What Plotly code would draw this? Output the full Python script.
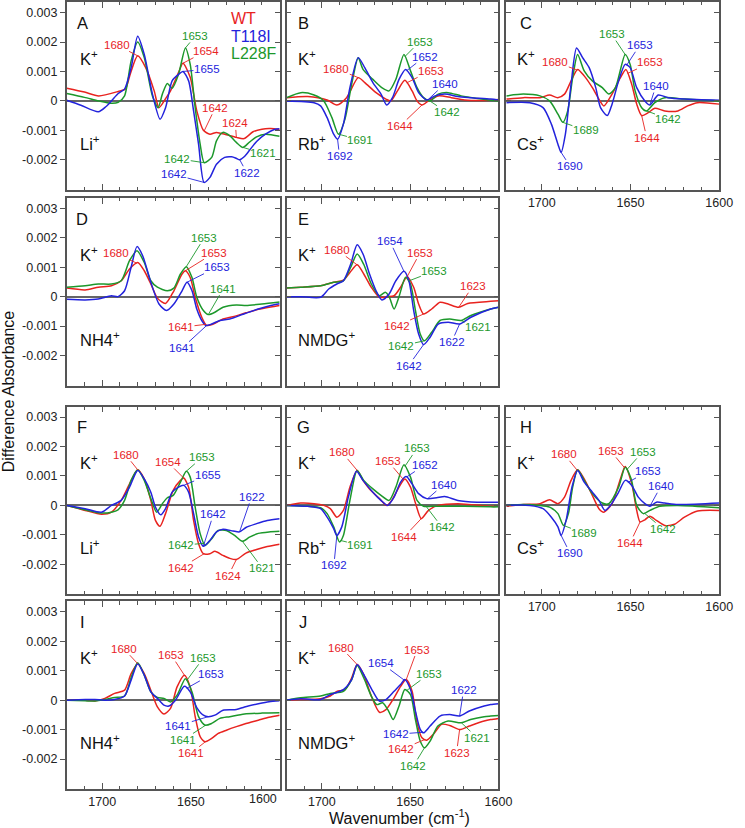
import numpy as np
import plotly.graph_objects as go

# ============================ DATA ============================
# Difference absorbance spectra, values in units of 0.001
# Each list: (wavenumber in cm-1, difference absorbance x 1e-3)

A_WT = [(1720, 0.43), (1710, 0.30), (1702, 0.17), (1691, 0.32), (1687, 0.40), (1684, 0.95), (1680, 1.53),
        (1675.5, 1.13), (1670.7, 0.34), (1668, -0.23), (1664, 0.10), (1661.5, 0.34), (1657, 0.96), (1654.5, 1.28),
        (1650.4, 0.80), (1646.7, -0.34), (1643, -1.00), (1639.3, -1.13), (1635.6, -1.07), (1630, -1.15),
        (1624.4, -1.24), (1620, -1.28), (1615, -1.05), (1610, -0.96), (1605, -0.94), (1600, -0.98)]
A_T118I = [(1720, 0.02), (1712, -0.15), (1702.2, -0.37), (1698, -0.20), (1694.8, 0.0), (1691, 0.25), (1687.4, 0.40),
           (1683.7, 1.13), (1680, 2.20), (1676.3, 1.58), (1671.7, 0.23), (1667.4, -0.62), (1664.3, -0.23),
           (1660.6, 0.68), (1657, 0.90), (1654.5, 1.00), (1651.3, 0.68), (1648.5, -0.34), (1645.7, -1.47),
           (1642.6, -2.77), (1639.3, -2.60), (1635.6, -2.15), (1631, -1.92), (1627, -1.90), (1624.5, -1.95),
           (1622.5, -2.00), (1620, -1.90), (1617, -1.68), (1613, -1.38), (1608, -1.13), (1603, -0.97), (1600, -0.95)]
A_L228F = [(1720, 0.25), (1710, 0.12), (1702, 0.0), (1695, -0.08), (1691, -0.05), (1687.4, 0.17), (1683.7, 1.36),
           (1680, 2.00), (1676.3, 1.47), (1671.7, 0.17), (1668.5, -0.23), (1666.1, 0.23), (1663.3, 0.59),
           (1660.6, 0.43), (1657, 0.90), (1653.1, 1.80), (1650.4, 1.24), (1647.6, -0.23), (1644.8, -1.47),
           (1642.5, -2.10), (1638.3, -1.92), (1635.6, -1.36), (1632, -1.07), (1628, -1.19), (1624.4, -1.41),
           (1620.7, -1.58), (1617, -1.40), (1613, -1.22), (1608, -1.13), (1600, -1.20)]

B_WT = [(1720, 0.11), (1708, 0.15), (1697, 0.03), (1691.5, -0.14), (1686, 0.11), (1679.4, 0.79), (1675.7, 0.62),
        (1669.3, 0.28), (1663.7, 0.06), (1660.9, 0.0), (1657.2, 0.34), (1653, 0.70), (1648.9, 0.34), (1646.1, 0.0),
        (1643.3, -0.14), (1639.6, 0.0), (1634.1, 0.17), (1626.7, 0.11), (1619.3, 0.03), (1604.4, 0.02), (1600, 0.05)]
B_T118I = [(1720, 0.0), (1704.4, -0.06), (1700.7, -0.17), (1697, -0.57), (1693.3, -1.13), (1691.1, -1.30),
           (1687.8, -0.79), (1684.1, 0.45), (1679.4, 1.47), (1675.7, 1.13), (1671.1, 0.62), (1666.5, 0.23),
           (1663.3, -0.14), (1660, 0.11), (1656.3, 0.73), (1652.6, 1.07), (1648.9, 0.79), (1645.2, 0.28),
           (1640.6, 0.03), (1635.9, 0.17), (1630.4, 0.23), (1623, 0.15), (1615.6, 0.11), (1604.4, 0.06), (1600, 0.03)]
B_L228F = [(1720, 0.11), (1711.9, 0.28), (1704.4, 0.20), (1698.9, 0.0), (1694.3, -0.57), (1690.6, -1.13),
           (1686.9, -0.62), (1683.1, 0.57), (1679.4, 1.47), (1676.7, 1.07), (1671.1, 0.73), (1665.6, 0.43),
           (1661.9, 0.34), (1658.1, 0.73), (1653.5, 1.58), (1649.8, 1.02), (1646.1, 0.45), (1642.4, 0.11),
           (1638.7, 0.0), (1634.1, 0.23), (1628.5, 0.28), (1621.1, 0.17), (1611.9, 0.08), (1604.4, 0.02), (1600, 0.0)]

C_WT = [(1720, 0.06), (1710.4, 0.11), (1701, 0.11), (1695.6, 0.20), (1691, 0.11), (1687.2, 0.23), (1683.5, 0.68),
        (1679.8, 1.07), (1676.1, 0.85), (1671.5, 0.45), (1667.8, 0.06), (1665, -0.17), (1660.4, 0.23),
        (1655.7, 0.79), (1652.6, 1.07), (1649.3, 0.56), (1646.5, -0.11), (1643.7, -0.50), (1640, -0.40),
        (1636.3, -0.25), (1630.7, -0.34), (1623.3, -0.34), (1617.8, -0.17), (1612.2, -0.06), (1600, -0.11)]
C_T118I = [(1720, -0.06), (1706.7, -0.06), (1699.3, -0.23), (1694.6, -0.79), (1690.9, -1.47), (1689.1, -1.75),
           (1686.7, -1.13), (1683.5, 0.56), (1680.4, 1.80), (1677, 1.47), (1673.3, 1.13), (1669.6, 0.45),
           (1666.9, -0.23), (1663.1, -0.50), (1660.4, -0.11), (1656.7, 0.68), (1653, 1.24), (1650.2, 1.13),
           (1646.5, 0.45), (1641.9, 0.0), (1639.1, -0.14), (1634.4, 0.20), (1628.9, 0.11), (1619.6, 0.06), (1600, 0.02)]
C_L228F = [(1720, 0.17), (1710.4, 0.23), (1701, 0.17), (1695.6, 0.0), (1690.9, -0.45), (1688.1, -0.73),
           (1685.4, -0.34), (1682.6, 0.79), (1679.8, 1.58), (1676.1, 1.02), (1671.5, 0.68), (1665.9, 0.45),
           (1662.2, 0.23), (1658.5, 0.45), (1653, 1.58), (1650.2, 1.24), (1647.4, 0.34), (1643.7, -0.23),
           (1641, -0.34), (1636.3, -0.06), (1630.7, 0.11), (1619.6, 0.06), (1600, 0.0)]

D_WT = [(1720, 0.29), (1709.6, 0.23), (1702.2, 0.32), (1694.8, 0.37), (1689.3, 0.54), (1684.6, 0.94), (1680, 1.16),
        (1676.3, 0.88), (1672.6, 0.43), (1668.9, -0.05), (1664.3, -0.23), (1659.6, 0.20), (1655, 0.77),
        (1653.1, 0.88), (1650.4, 0.65), (1647.6, -0.02), (1643.9, -0.70), (1641.1, -0.98), (1637.4, -0.93),
        (1631.9, -0.76), (1626.3, -0.68), (1619, -0.55), (1612, -0.43), (1605, -0.35), (1600, -0.30)]
D_T118I = [(1720, -0.09), (1709.6, -0.11), (1702.2, -0.08), (1694.8, 0.03), (1691.1, 0.0), (1687.4, 0.20),
           (1683.7, 1.00), (1680.4, 1.70), (1677.2, 1.39), (1672.6, 0.49), (1668, -0.25), (1663.7, -0.47),
           (1659.6, -0.25), (1655, 0.20), (1652.2, 0.49), (1649.4, 0.20), (1646.7, -0.42), (1643.9, -0.81),
           (1641.5, -0.98), (1638.3, -0.93), (1633.7, -0.81), (1628.1, -0.76), (1620.7, -0.60), (1612, -0.42),
           (1605, -0.30), (1600, -0.24)]
D_L228F = [(1720, 0.32), (1709.6, 0.37), (1702.2, 0.43), (1694.8, 0.43), (1689.3, 0.54), (1684.6, 1.22),
           (1680.4, 1.56), (1676.3, 1.16), (1672.6, 0.54), (1668.9, 0.32), (1663.3, 0.20), (1659.6, 0.29),
           (1655.9, 0.77), (1652.6, 1.02), (1649.4, 0.65), (1646.7, -0.02), (1643, -0.47), (1640.2, -0.61),
           (1636.5, -0.53), (1631.9, -0.36), (1624.4, -0.28), (1618.9, -0.30), (1610, -0.25), (1600, -0.18)]

E_WT = [(1720, 0.29), (1711.9, 0.32), (1700.7, 0.37), (1693.3, 0.49), (1687.8, 0.56), (1684.1, 0.82), (1680, 1.08),
        (1675.7, 0.71), (1672, 0.32), (1667.4, -0.02), (1662.8, 0.0), (1659.1, 0.03), (1655.4, 0.32),
        (1651.7, 0.68), (1648, 0.32), (1645.2, -0.25), (1642.4, -0.59), (1637.8, -0.42), (1633.1, -0.19),
        (1628.5, -0.25), (1622.5, -0.36), (1617.4, -0.23), (1604.4, -0.16), (1600, -0.14)]
E_T118I = [(1720, 0.0), (1711.9, 0.0), (1700.7, -0.02), (1696.1, 0.26), (1691.5, 0.43), (1687.8, 0.54),
           (1683.7, 1.10), (1680, 1.76), (1676.7, 1.45), (1673, 0.77), (1669.3, 0.20), (1666, -0.11),
           (1661.9, 0.09), (1658.1, 0.54), (1653.5, 0.86), (1650.7, 0.54), (1648, -0.47), (1645.2, -1.27),
           (1642.4, -1.63), (1638.7, -1.38), (1634.1, -0.93), (1628.5, -0.87), (1622, -0.93), (1615.6, -0.70),
           (1604.4, -0.42), (1600, -0.36)]
E_L228F = [(1720, 0.29), (1711.9, 0.32), (1700.7, 0.37), (1693.3, 0.49), (1687.8, 0.54), (1683.7, 0.99),
           (1680, 1.45), (1676.3, 1.10), (1672, 0.43), (1667.4, 0.03), (1664.1, 0.15), (1661.9, 0.0),
           (1659.1, -0.42), (1656.3, 0.0), (1652.6, 0.66), (1649.8, 0.43), (1647, -0.47), (1644.3, -1.27),
           (1641.9, -1.50), (1637.8, -1.21), (1633.1, -0.81), (1627.6, -0.76), (1621.1, -0.81), (1615.6, -0.64),
           (1604.4, -0.42), (1600, -0.36)]

F_WT = [(1720, 0.0), (1709.6, -0.17), (1700.4, -0.30), (1694.8, -0.23), (1689.3, 0.17), (1684.6, 0.73), (1680, 1.21),
        (1676.3, 0.90), (1672.6, 0.17), (1670, -0.51), (1667.4, -0.71), (1664.3, -0.28), (1660, 0.51),
        (1655.9, 0.85), (1654.1, 0.93), (1651.3, 0.62), (1648.5, -0.51), (1645.7, -1.30), (1643, -1.64),
        (1639.3, -1.64), (1636.5, -1.56), (1631.9, -1.70), (1628.1, -1.80), (1624.4, -1.84), (1619, -1.62),
        (1613, -1.50), (1607, -1.40), (1600, -1.32)]
F_T118I = [(1720, 0.0), (1709.6, -0.11), (1700.4, -0.23), (1694.8, 0.0), (1689.3, 0.17), (1684.6, 0.62),
           (1680, 1.19), (1676.3, 0.90), (1672.6, 0.45), (1670, -0.06), (1667, -0.32), (1664.3, -0.11),
           (1660.6, 0.45), (1657, 0.62), (1654.1, 0.68), (1651.3, 0.45), (1648.5, -0.28), (1645.7, -1.07),
           (1643, -1.39), (1639.3, -1.19), (1635.6, -0.90), (1631.9, -0.81), (1626.3, -0.87), (1622.6, -0.90),
           (1619, -0.75), (1613, -0.62), (1607, -0.51), (1600, -0.45)]
F_L228F = [(1720, 0.0), (1709.6, -0.15), (1700.4, -0.26), (1694.8, -0.23), (1691.1, -0.15), (1687.4, 0.17),
           (1683.7, 0.85), (1680, 1.21), (1676.3, 0.85), (1672.6, 0.23), (1669.3, -0.23), (1666.1, 0.06),
           (1663.3, 0.26), (1660, 0.34), (1655.9, 0.79), (1652.6, 1.16), (1650.4, 0.96), (1647.6, -0.06),
           (1644.8, -0.96), (1642, -1.36), (1638.3, -1.13), (1634.6, -0.85), (1630, -0.85), (1625.4, -1.02),
           (1621, -1.22), (1617, -1.08), (1612, -0.95), (1606, -0.90), (1600, -0.88)]

G_WT = [(1720, 0.0), (1712, 0.08), (1704.4, 0.06), (1698.9, 0.0), (1695.2, -0.11), (1691.5, -0.40), (1687.8, -0.17),
        (1684.1, 0.62), (1680, 1.19), (1676.7, 0.85), (1673, 0.56), (1667.4, 0.23), (1663.3, 0.0), (1660.4, 0.17),
        (1656.3, 0.62), (1653, 0.90), (1649.8, 0.62), (1646.9, 0.06), (1643.7, -0.45), (1639.6, -0.17),
        (1634.1, 0.0), (1623, 0.06), (1604.4, -0.03), (1600, -0.03)]
G_T118I = [(1720, 0.0), (1708, -0.03), (1700.7, -0.11), (1697, -0.40), (1693.3, -0.79), (1691.5, -1.02),
           (1688.7, -0.73), (1685, 0.28), (1680.4, 1.16), (1676.7, 0.85), (1671.1, 0.45), (1666.5, 0.17),
           (1662.8, 0.0), (1659.1, 0.28), (1655.4, 0.79), (1652.2, 0.98), (1648.9, 0.73), (1645.2, 0.40),
           (1640.6, 0.23), (1635, 0.26), (1630.4, 0.30), (1623, 0.17), (1612, 0.11), (1604.4, 0.11), (1600, 0.11)]
G_L228F = [(1720, 0.0), (1708, -0.03), (1700.7, -0.08), (1697, -0.28), (1693.3, -0.73), (1690, -1.24),
           (1687.8, -1.02), (1684.1, 0.17), (1680, 1.19), (1676.3, 0.85), (1671.1, 0.56), (1666.5, 0.34),
           (1661.9, 0.17), (1658.1, 0.62), (1653.5, 1.38), (1649.8, 0.96), (1646.1, 0.17), (1642.4, -0.03),
           (1637.8, -0.03), (1630.4, -0.03), (1619.3, -0.03), (1604.4, -0.05), (1600, -0.05)]

H_WT = [(1720, -0.03), (1710.4, 0.03), (1701, 0.06), (1695.6, 0.19), (1690.9, 0.06), (1687.2, 0.28), (1683.5, 0.85),
        (1679.8, 1.21), (1676.1, 0.90), (1671.5, 0.34), (1667.8, -0.11), (1665, -0.23), (1660.4, 0.06),
        (1655.7, 0.90), (1653, 1.32), (1649.3, 0.73), (1646.5, -0.17), (1644.6, -0.56), (1641.9, -0.49),
        (1639.1, -0.37), (1635.4, -0.51), (1630.7, -0.68), (1625.2, -0.64), (1619.6, -0.40), (1612.2, -0.19),
        (1600, -0.17)]
H_T118I = [(1720, 0.0), (1706.7, 0.0), (1699.3, -0.11), (1694.6, -0.40), (1690.9, -0.73), (1689.1, -1.02),
           (1686.3, -0.51), (1683, 0.62), (1679.8, 1.19), (1676.1, 0.79), (1671.5, 0.45), (1667.8, 0.17),
           (1664.4, -0.17), (1661.3, 0.0), (1656.7, 0.45), (1653, 0.85), (1649.3, 0.68), (1645.6, 0.28),
           (1641.9, 0.06), (1639.1, -0.03), (1635.4, 0.11), (1630.7, 0.08), (1623.3, 0.03), (1600, 0.08)]
H_L228F = [(1720, 0.0), (1710.4, 0.03), (1701, 0.0), (1695.6, -0.06), (1690.9, -0.28), (1687.8, -0.68),
           (1685, -0.28), (1682.6, 0.62), (1679.8, 1.21), (1676.1, 0.85), (1671.5, 0.40), (1665.9, 0.08),
           (1662.2, 0.06), (1656.7, 0.62), (1653, 1.30), (1649.6, 0.90), (1646.5, 0.0), (1642.8, -0.28),
           (1639.1, -0.17), (1633.5, -0.03), (1623.3, 0.0), (1600, -0.08)]

I_WT = [(1720, 0.0), (1709.6, 0.0), (1704.1, -0.03), (1698.5, 0.06), (1693, 0.23), (1687.4, 0.34), (1683.7, 0.90),
        (1680, 1.24), (1676.3, 0.90), (1672.6, 0.34), (1668.9, -0.23), (1665.2, -0.47), (1661.5, -0.28),
        (1657.8, 0.45), (1653.7, 0.85), (1650.4, 0.45), (1647.6, -0.56), (1644.8, -1.24), (1642, -1.41),
        (1638.3, -1.30), (1634.6, -1.13), (1630, -1.02), (1624.4, -0.90), (1619.8, -0.81), (1612, -0.68),
        (1606, -0.58), (1600, -0.51)]
I_T118I = [(1720, 0.0), (1709.6, 0.02), (1704.1, 0.02), (1698.5, 0.0), (1693, 0.02), (1687.4, 0.14), (1683.7, 0.68),
           (1680, 1.24), (1676.3, 0.85), (1672.6, 0.28), (1668.9, 0.06), (1665.2, -0.17), (1662.4, -0.20),
           (1658.7, 0.0), (1653.7, 0.47), (1650.4, 0.28), (1646.7, -0.25), (1643, -0.51), (1640.2, -0.56),
           (1636.5, -0.51), (1631.9, -0.34), (1624.4, -0.32), (1619.8, -0.23), (1612, -0.12), (1606, -0.05),
           (1600, -0.02)]
I_L228F = [(1720, 0.0), (1709.6, -0.02), (1704.1, -0.03), (1698.5, 0.02), (1693, 0.09), (1687.4, 0.14),
           (1683.7, 0.77), (1680, 1.27), (1676.3, 0.85), (1672.6, 0.28), (1668.9, 0.09), (1665.2, 0.06),
           (1661.5, -0.06), (1657.8, 0.17), (1653.1, 0.73), (1649.4, 0.28), (1645.7, -0.56), (1642, -0.85),
           (1638.3, -0.79), (1633.7, -0.62), (1628.1, -0.56), (1619.8, -0.47), (1610, -0.44), (1600, -0.43)]

J_WT = [(1720, 0.0), (1712, 0.02), (1700.7, 0.05), (1695.2, 0.14), (1691.5, 0.30), (1686.9, 0.36), (1683.1, 0.76),
        (1680, 1.21), (1676.3, 0.87), (1672, 0.14), (1667.4, -0.41), (1663.7, -0.32), (1659.1, 0.08),
        (1655.4, 0.47), (1652.2, 0.70), (1648.9, 0.30), (1646.1, -0.77), (1643.3, -1.28), (1640.6, -1.36),
        (1636.9, -1.16), (1632.2, -0.82), (1627.6, -0.86), (1622, -1.00), (1616.5, -0.88), (1608.1, -0.71),
        (1604.4, -0.66), (1600, -0.62)]
J_T118I = [(1720, 0.0), (1712, 0.05), (1700.7, 0.02), (1695.2, 0.19), (1687.8, 0.36), (1683.1, 0.70), (1680, 1.21),
           (1675.7, 0.81), (1671.1, 0.30), (1667.4, -0.03), (1663.7, 0.02), (1659.1, 0.30), (1655.4, 0.53),
           (1653, 0.70), (1649.8, 0.36), (1647, -0.37), (1644.3, -0.99), (1642.4, -1.11), (1638.7, -0.88),
           (1633.1, -0.54), (1627.6, -0.49), (1622, -0.54), (1616.5, -0.37), (1608.1, -0.20), (1604.4, -0.15),
           (1600, -0.12)]
J_L228F = [(1720, 0.0), (1712, 0.08), (1700.7, 0.14), (1695.2, 0.23), (1687.8, 0.30), (1683.1, 0.70), (1680, 1.18),
           (1676.3, 0.76), (1672, 0.14), (1668.9, -0.15), (1665.6, -0.09), (1662.2, -0.37), (1659.6, -0.66),
           (1656.3, -0.20), (1653, 0.36), (1649.8, 0.19), (1647, -0.66), (1644.3, -1.39), (1641.9, -1.62),
           (1638.7, -1.39), (1634.3, -0.88), (1628.5, -0.71), (1621.1, -0.77), (1615.8, -0.66), (1608.1, -0.56),
           (1604.4, -0.54), (1600, -0.52)]

SERIES_NAMES = ["WT", "T118I", "L228F"]
PANEL_LETTERS = ["A", "B", "C", "D", "E", "F", "G", "H", "I", "J"]
SPECTRA = {
    "A": {"WT": A_WT, "T118I": A_T118I, "L228F": A_L228F},
    "B": {"WT": B_WT, "T118I": B_T118I, "L228F": B_L228F},
    "C": {"WT": C_WT, "T118I": C_T118I, "L228F": C_L228F},
    "D": {"WT": D_WT, "T118I": D_T118I, "L228F": D_L228F},
    "E": {"WT": E_WT, "T118I": E_T118I, "L228F": E_L228F},
    "F": {"WT": F_WT, "T118I": F_T118I, "L228F": F_L228F},
    "G": {"WT": G_WT, "T118I": G_T118I, "L228F": G_L228F},
    "H": {"WT": H_WT, "T118I": H_T118I, "L228F": H_L228F},
    "I": {"WT": I_WT, "T118I": I_T118I, "L228F": I_L228F},
    "J": {"WT": J_WT, "T118I": J_T118I, "L228F": J_L228F},
}
REFERENCE_ION = "K<sup>+</sup>"
TEST_IONS = {"A": "Li<sup>+</sup>", "B": "Rb<sup>+</sup>", "C": "Cs<sup>+</sup>", "D": "NH4<sup>+</sup>",
             "E": "NMDG<sup>+</sup>", "F": "Li<sup>+</sup>", "G": "Rb<sup>+</sup>", "H": "Cs<sup>+</sup>",
             "I": "NH4<sup>+</sup>", "J": "NMDG<sup>+</sup>"}

# Peak labels: (series, label text, wavenumber of the labelled point)
PEAKS = {
    "A": [("WT", "1680", 1680), ("L228F", "1653", 1653.1), ("WT", "1654", 1654.5), ("T118I", "1655", 1654.5),
          ("WT", "1642", 1642.5), ("WT", "1624", 1624.4), ("L228F", "1642", 1642.5), ("T118I", "1642", 1642.6),
          ("L228F", "1621", 1620.7), ("T118I", "1622", 1622.5)],
    "B": [("WT", "1680", 1679.4), ("L228F", "1653", 1653), ("T118I", "1652", 1652), ("WT", "1653", 1652),
          ("T118I", "1640", 1639.5), ("WT", "1644", 1643.3), ("L228F", "1642", 1639.5), ("L228F", "1691", 1690.6),
          ("T118I", "1692", 1691.1)],
    "C": [("WT", "1680", 1680), ("L228F", "1653", 1652.8), ("T118I", "1653", 1652.2), ("WT", "1653", 1651.7),
          ("T118I", "1640", 1639.1), ("L228F", "1689", 1688.1), ("T118I", "1690", 1689.1), ("WT", "1644", 1643.7),
          ("L228F", "1642", 1641)],
    "D": [("WT", "1680", 1680.5), ("L228F", "1653", 1652.6), ("WT", "1653", 1653.1), ("T118I", "1653", 1652.2),
          ("L228F", "1641", 1640.2), ("WT", "1641", 1641.5), ("T118I", "1641", 1641)],
    "E": [("WT", "1680", 1680), ("T118I", "1654", 1653.5), ("WT", "1653", 1651.7), ("L228F", "1653", 1651),
          ("WT", "1623", 1622.5), ("WT", "1642", 1642.4), ("L228F", "1642", 1641.9), ("T118I", "1642", 1642.4),
          ("T118I", "1622", 1622), ("L228F", "1621", 1621.1)],
    "F": [("WT", "1680", 1680), ("WT", "1654", 1654.1), ("L228F", "1653", 1652.6), ("T118I", "1655", 1654.1),
          ("T118I", "1642", 1643), ("L228F", "1642", 1642.5), ("WT", "1642", 1642.5), ("WT", "1624", 1624.4),
          ("T118I", "1622", 1622.6), ("L228F", "1621", 1621)],
    "G": [("WT", "1680", 1680), ("WT", "1653", 1653.5), ("L228F", "1653", 1653), ("T118I", "1652", 1652),
          ("T118I", "1640", 1640), ("WT", "1644", 1643.7), ("L228F", "1642", 1641), ("L228F", "1691", 1689.5),
          ("T118I", "1692", 1691.5)],
    "H": [("WT", "1680", 1680), ("WT", "1653", 1653.3), ("L228F", "1653", 1652.2), ("T118I", "1653", 1651.5),
          ("T118I", "1640", 1639.1), ("L228F", "1689", 1687.8), ("T118I", "1690", 1689.1), ("WT", "1644", 1644.6),
          ("L228F", "1642", 1642.2)],
    "I": [("WT", "1680", 1680), ("WT", "1653", 1653.7), ("L228F", "1653", 1652.5), ("T118I", "1653", 1652.5),
          ("T118I", "1641", 1640.2), ("L228F", "1641", 1641.5), ("WT", "1641", 1641.5)],
    "J": [("WT", "1680", 1680), ("WT", "1653", 1652.2), ("T118I", "1654", 1653.3), ("L228F", "1653", 1652.2),
          ("T118I", "1622", 1622), ("T118I", "1642", 1642.7), ("WT", "1642", 1641.5), ("L228F", "1642", 1641.9),
          ("WT", "1623", 1622), ("L228F", "1621", 1621)],
}

Y_TICK_VALUES = [-2, -1, 0, 1, 2, 3]
Y_TICK_TEXT = ["-0.002", "-0.001", "0", "0.001", "0.002", "0.003"]
X_TICK_VALUES = [1700, 1650, 1600]

# ============================ STYLE / LAYOUT ============================
W, H = 745, 828
FONT = "Liberation Sans, Arial, Helvetica, sans-serif"
COLORS = {"WT": "#e8231f", "T118I": "#2323dc", "L228F": "#1c982b"}
AXIS_COLOR = "#555555"
X_RANGE = [1720, 1600]
Y_RANGE = [-3.02, 3.36]
COL_PX = {1: (68, 285), 2: (292, 508), 3: (516, 733)}
ROW_PX = {1: (1, 189), 2: (197, 385), 3: (406, 594), 4: (601, 789)}
PANEL_POS = {"A": (1, 1), "B": (1, 2), "C": (1, 3), "D": (2, 1), "E": (2, 2),
             "F": (3, 1), "G": (3, 2), "H": (3, 3), "I": (4, 1), "J": (4, 2)}
XLABEL_PANELS = {"C", "H", "I", "J"}
LETTER_DX = {1: 16, 2: 17, 3: 20}
ION_DX = {1: 11, 2: 10, 3: 9}

# text offsets (pixels, text centre relative to labelled point) for PEAKS, in the same order
LABEL_OFFSETS = {
    "A": [(-21, -11), (10, -12), (23, -12), (24, -2), (11, -23), (-1, -14), (-27, -4), (-30, -8), (20, 6), (7, 13)],
    "B": [(-22, -9), (15, -15), (18, -14), (24, -12), (16, -15), (-22, 21), (18, 12), (22, 6), (2, 17)],
    "C": [(-22, -8), (-14, -21), (13, -20), (23, -11), (6, -19), (23, 8), (9, 14), (5, 22), (22, 8)],
    "D": [(-21, -10), (18, -29), (29, -18), (30, -15), (15, -26), (-25, 3), (-25, 23)],
    "E": [(-20, -15), (-14, -30), (13, -24), (26, -10), (14, -21), (-27, 12), (-23, 5), (-15, 21), (-8, 18), (17, 7)],
    "F": [(-12, -15), (-16, -16), (16, -14), (24, -10), (10, -32), (-23, 2), (-23, 14), (-8, 16), (12, -35), (20, 27)],
    "G": [(-15, -18), (-16, -19), (12, -18), (18, -12), (16, -14), (-17, 18), (16, 21), (20, 5), (-3, 30)],
    "H": [(-13, -16), (-14, -17), (16, -18), (20, -11), (11, -20), (21, 8), (9, 18), (-10, 21), (19, 16)],
    "I": [(-14, -15), (-13, -20), (17, -23), (25, -14), (-30, 9), (-23, 15), (-15, 12)],
    "J": [(-16, -17), (11, -30), (-23, -17), (23, -17), (4, -26), (-27, 2), (-24, 10), (-11, 18), (-3, 23), (16, 15)],
}


def px(x, y):
    return x / W, 1 - y / H


def sfx(n):
    return "" if n == 1 else str(n)


fig = go.Figure()
layout = dict(width=W, height=H, margin=dict(l=0, r=0, t=0, b=0), paper_bgcolor="white",
              plot_bgcolor="white", showlegend=False, font=dict(family=FONT, color="#222222"))
annotations = []

overlay_n = len(PANEL_LETTERS)
for i, letter in enumerate(PANEL_LETTERS):
    n = i + 1
    row, col = PANEL_POS[letter]
    x0, x1 = COL_PX[col]
    y0, y1 = ROW_PX[row]
    xd = [x0 / W, x1 / W]
    yd = [1 - y1 / H, 1 - y0 / H]
    show_x = letter in XLABEL_PANELS
    xtickvals = [1700, 1650] if letter == "I" else X_TICK_VALUES
    layout["xaxis" + sfx(n)] = dict(
        domain=xd, anchor="y" + sfx(n), range=X_RANGE, showgrid=False, zeroline=False,
        showline=True, linecolor=AXIS_COLOR, linewidth=1.5, mirror="ticks",
        tickmode="array", tickvals=xtickvals, ticktext=[str(v) for v in xtickvals],
        ticks="inside", ticklen=6, tickwidth=1, tickcolor=AXIS_COLOR,
        showticklabels=show_x, tickfont=dict(size=12.5, color="#222222"),
        minor=dict(tickmode="linear", tick0=1600, dtick=10, ticks="inside", ticklen=3.5,
                   tickwidth=1, tickcolor=AXIS_COLOR, showgrid=False),
    )
    left = col == 1
    layout["yaxis" + sfx(n)] = dict(
        domain=yd, anchor="x" + sfx(n), range=Y_RANGE, showgrid=False,
        zeroline=True, zerolinecolor="#666666", zerolinewidth=1.6,
        showline=True, linecolor=AXIS_COLOR, linewidth=1.5,
        mirror=True if left else "ticks",
        tickmode="array", tickvals=Y_TICK_VALUES, ticktext=Y_TICK_TEXT,
        ticks="outside" if left else "inside", ticklen=5, tickwidth=1, tickcolor=AXIS_COLOR,
        showticklabels=left, tickfont=dict(size=12.5, color="#222222"),
    )
    if left:
        overlay_n += 1
        m = overlay_n
        layout["yaxis" + sfx(m)] = dict(
            overlaying="y" + sfx(n), anchor="x" + sfx(n), side="right", range=Y_RANGE,
            showgrid=False, zeroline=False, showline=False, tickmode="array", tickvals=Y_TICK_VALUES,
            ticks="inside", ticklen=5, tickwidth=1, tickcolor=AXIS_COLOR, showticklabels=False,
        )
        fig.add_trace(go.Scatter(x=[None], y=[None], xaxis="x" + sfx(n), yaxis="y" + sfx(m),
                                 mode="lines", hoverinfo="skip", showlegend=False))

    # spectra
    for s in ["WT", "L228F", "T118I"]:
        pts = SPECTRA[letter][s]
        fig.add_trace(go.Scatter(
            x=[p[0] for p in pts], y=[p[1] for p in pts], mode="lines", name=s,
            line=dict(color=COLORS[s], width=1.5, shape="spline", smoothing=0.7),
            xaxis="x" + sfx(n), yaxis="y" + sfx(n), hoverinfo="skip", showlegend=False))

    # peak labels
    for (s, txt, wn), (dx, dy) in zip(PEAKS[letter], LABEL_OFFSETS[letter]):
        pts = SPECTRA[letter][s]
        xs = np.array([p[0] for p in pts])[::-1]
        ys = np.array([p[1] for p in pts])[::-1]
        yv = float(np.interp(wn, xs, ys))
        annotations.append(dict(
            x=wn, y=yv, xref="x" + sfx(n), yref="y" + sfx(n), text=txt, showarrow=True,
            ax=dx, ay=dy, arrowhead=0, arrowwidth=0.9, arrowcolor=COLORS[s], standoff=0,
            font=dict(size=11.5, color=COLORS[s], family=FONT), borderpad=0))

    # panel letter and ion labels
    zero_y = y0 + 99
    lx, ly = px(x0 + LETTER_DX[col], zero_y - 78)
    annotations.append(dict(x=lx, y=ly, xref="paper", yref="paper", text=letter, showarrow=False,
                            xanchor="center", yanchor="middle", font=dict(size=16.5, color="#111111")))
    kx, ky = px(x0 + ION_DX[col], zero_y - 43)
    annotations.append(dict(x=kx, y=ky, xref="paper", yref="paper", text=REFERENCE_ION, showarrow=False,
                            xanchor="left", yanchor="middle", font=dict(size=16.5, color="#111111")))
    ix, iy = px(x0 + ION_DX[col], zero_y + 42)
    annotations.append(dict(x=ix, y=iy, xref="paper", yref="paper", text=TEST_IONS[letter], showarrow=False,
                            xanchor="left", yanchor="middle", font=dict(size=16.5, color="#111111")))

# shifted "1600" label under panel I
annotations.append(dict(x=1600, y=1 - 799 / H, xref="x9", yref="paper", text="1600", showarrow=False,
                        xanchor="right", yanchor="middle", xshift=-1, font=dict(size=12.5, color="#222222")))

# legend texts
for s, yy in [("WT", 18), ("T118I", 36), ("L228F", 53)]:
    lx, ly = px(233, yy)
    annotations.append(dict(x=lx, y=ly, xref="paper", yref="paper", text=s, showarrow=False,
                            xanchor="left", yanchor="middle", font=dict(size=16, color=COLORS[s])))

# axis titles
tx, ty = px(9, 391)
annotations.append(dict(x=tx, y=ty, xref="paper", yref="paper", text="Difference Absorbance", textangle=-90,
                        showarrow=False, xanchor="center", yanchor="middle", font=dict(size=16, color="#111111")))
tx, ty = px(407, 817)
annotations.append(dict(x=tx, y=ty, xref="paper", yref="paper", text="Wavenumber (cm<sup>-1</sup>)",
                        showarrow=False, xanchor="center", yanchor="middle", font=dict(size=16, color="#111111")))

layout["annotations"] = annotations
fig.update_layout(**layout)
fig.write_html("out.html", config={"displayModeBar": False},
               post_script="document.body.style.margin='0px';")
